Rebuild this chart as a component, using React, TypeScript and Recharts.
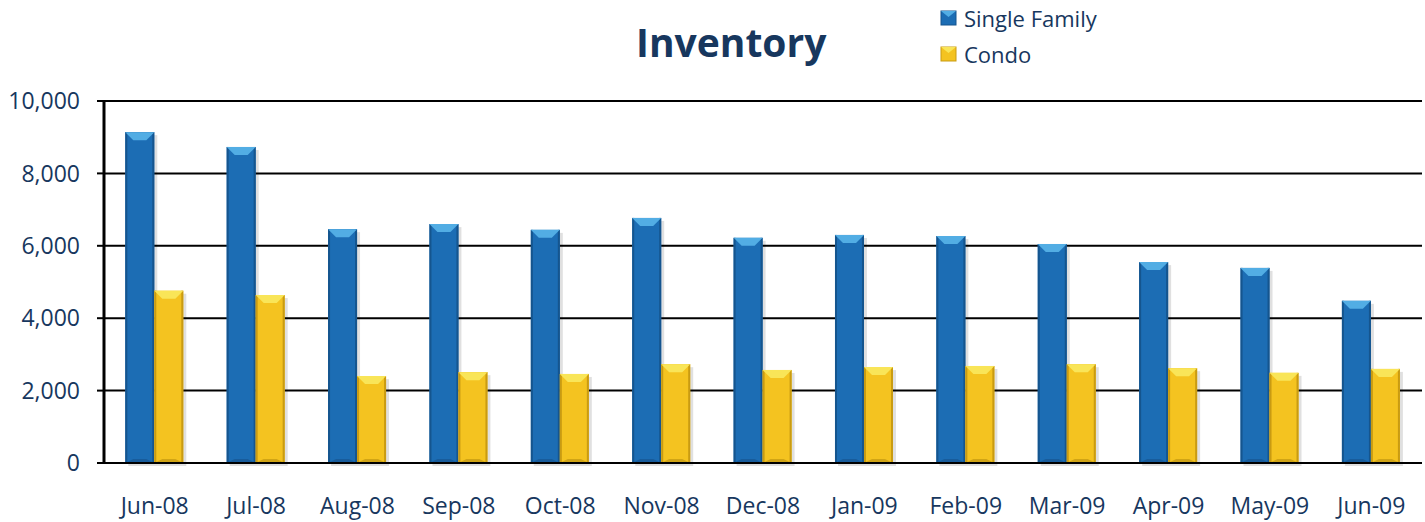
import React from "react";
import { BarChart, Bar, XAxis, YAxis, CartesianGrid } from "recharts";

const months = ["Jun-08", "Jul-08", "Aug-08", "Sep-08", "Oct-08", "Nov-08", "Dec-08", "Jan-09", "Feb-09", "Mar-09", "Apr-09", "May-09", "Jun-09"];
const singleFamily = [9140, 8730, 6460, 6600, 6440, 6770, 6220, 6300, 6270, 6050, 5550, 5390, 4480];
const condo = [4760, 4640, 2400, 2510, 2460, 2730, 2570, 2650, 2680, 2730, 2620, 2490, 2600];
const yTicks = [0, 2000, 4000, 6000, 8000, 10000];

const data = months.map((m, i) => ({ month: m, sf: singleFamily[i], condo: condo[i] }));

const TEXT = "#17375E";
const FONT = "'Open Sans', sans-serif";

const palettes: Record<string, { base: string; top: string; edge: string; bottom: string }> = {
  sf: { base: "#1C6DB4", top: "#52ADE4", edge: "#15558E", bottom: "#15528A" },
  condo: { base: "#F4C320", top: "#F9E558", edge: "#C99B12", bottom: "#B8900F" },
};

const makeShape = (key: string) => (props: any) => {
  const { x, y, width, height } = props;
  if (!height || height <= 0) return null;
  const p = palettes[key];
  const b = Math.min(8, width / 3);
  return (
    <g>
      <rect x={x + 3} y={y + 3} width={width} height={height} fill="#000" opacity={0.12} />
      <rect x={x} y={y} width={width} height={height} fill={p.base} />
      <rect x={x} y={y} width={2} height={height} fill={p.edge} />
      <rect x={x + width - 2} y={y} width={2} height={height} fill={p.edge} />
      <polygon points={`${x},${y} ${x + width},${y} ${x + width - b},${y + b} ${x + b},${y + b}`} fill={p.top} />
      <polygon points={`${x},${y + height} ${x + width},${y + height} ${x + width - b},${y + height - b / 2} ${x + b},${y + height - b / 2}`} fill={p.bottom} opacity={0.6} />
    </g>
  );
};

const legendItems = [
  { label: "Single Family", k: "sf" },
  { label: "Condo", k: "condo" },
];

export default function App() {
  return (
    <div style={{ position: "absolute", left: 0, top: 0, width: 1425, height: 522, background: "#fff" }}>
      <div
        style={{
          position: "absolute",
          left: 636,
          top: 12,
          fontFamily: FONT,
          fontWeight: 700,
          fontSize: 39,
          color: TEXT,
          lineHeight: "60px",
        }}
      >
        Inventory
      </div>
      <div style={{ position: "absolute", left: 940, top: 0, fontFamily: FONT, fontSize: 22, color: TEXT, lineHeight: "36px" }}>
        {legendItems.map((it) => (
          <div key={it.k} style={{ display: "flex", alignItems: "center" }}>
            <svg width={18} height={16} style={{ marginRight: 6 }}>
              <rect x={1} y={1} width={15} height={14} fill={palettes[it.k].base} stroke={palettes[it.k].edge} />
              <polygon points="1,1 16,1 8.5,7" fill={palettes[it.k].top} />
            </svg>
            {it.label}
          </div>
        ))}
      </div>
      <BarChart
        width={1425}
        height={522}
        data={data}
        margin={{ top: 101, right: 3, bottom: 0, left: 0 }}
        barCategoryGap="21%"
        barGap={0}
      >
        <CartesianGrid horizontal vertical={false} stroke="#000" strokeWidth={2} strokeOpacity={1} />
        <XAxis
          dataKey="month"
          height={59}
          axisLine={{ stroke: "#000", strokeWidth: 2 }}
          tickLine={false}
          tickMargin={29}
          tick={{ fill: TEXT, fontSize: 23, fontFamily: FONT }}
          interval={0}
        />
        <YAxis
          width={104}
          domain={[0, 10000]}
          ticks={yTicks}
          tickFormatter={(v: number) => v.toLocaleString("en-US")}
          axisLine={{ stroke: "#000", strokeWidth: 3 }}
          tickLine={{ stroke: "#000", strokeWidth: 2 }}
          tickSize={7}
          tickMargin={17}
          tick={{ fill: TEXT, fontSize: 23, fontFamily: FONT }}
        />
        <Bar dataKey="sf" name="Single Family" isAnimationActive={false} shape={makeShape("sf")} />
        <Bar dataKey="condo" name="Condo" isAnimationActive={false} shape={makeShape("condo")} />
      </BarChart>
    </div>
  );
}
